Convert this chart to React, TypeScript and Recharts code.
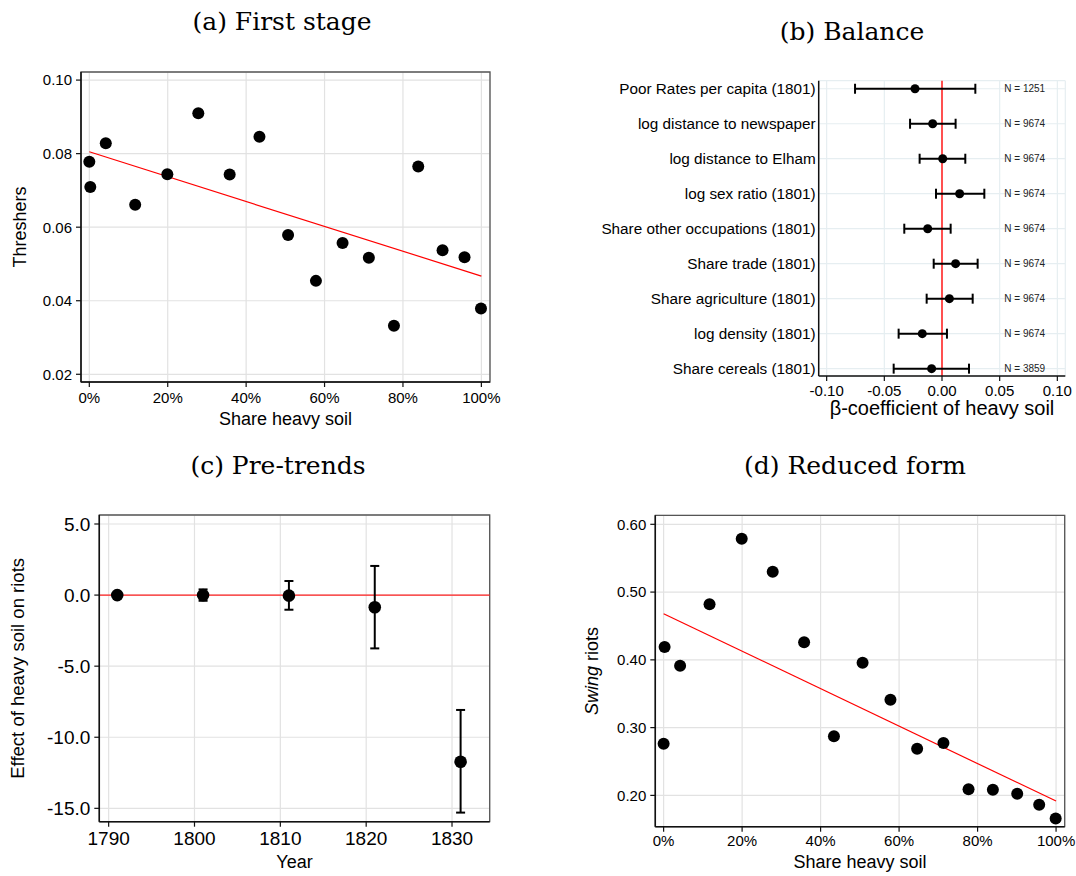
import React from "react"
import { ScatterChart, Scatter, XAxis, YAxis, CartesianGrid, ReferenceLine, ReferenceArea, ErrorBar, Label } from "recharts"

const SANS = "'Liberation Sans', Arial, sans-serif"
const SERIF = "'DejaVu Serif', serif"

// binned share of heavy soil (same bins in panels a and d)
const heavySoil = [0, 0.0025, 0.042, 0.117, 0.199, 0.278, 0.358, 0.434, 0.507, 0.578, 0.646, 0.713, 0.777, 0.839, 0.901, 0.957, 0.999]
const threshers = [0.0778, 0.0709, 0.0828, 0.0661, 0.0744, 0.091, 0.0743, 0.0846, 0.0579, 0.0454, 0.0557, 0.0517, 0.0332, 0.0765, 0.0537, 0.0518, 0.0379]
const thresherFit = [0.0805, 0.0467] // fitted line at 0% and 100%
const swingRiots = [0.2763, 0.4189, 0.3914, 0.4819, 0.5788, 0.5301, 0.4258, 0.2871, 0.3958, 0.3412, 0.2689, 0.2772, 0.2089, 0.2084, 0.2025, 0.1862, 0.166]
const riotFit = [0.4681, 0.1916]
const shareTicks = [0, 0.2, 0.4, 0.6, 0.8, 1]
const thresherTicks = [0.02, 0.04, 0.06, 0.08, 0.1]
const riotTicks = [0.2, 0.3, 0.4, 0.5, 0.6]

// (b) balance
const covariates = [
  "Poor Rates per capita (1801)",
  "log distance to newspaper",
  "log distance to Elham",
  "log sex ratio (1801)",
  "Share other occupations (1801)",
  "Share trade (1801)",
  "Share agriculture (1801)",
  "log density (1801)",
  "Share cereals (1801)",
]
const balanceCoef = [-0.0234, -0.0081, 0.0006, 0.0153, -0.0124, 0.0118, 0.0064, -0.0171, -0.009]
const balanceLo = [-0.0754, -0.0277, -0.0194, -0.0052, -0.0327, -0.0072, -0.0133, -0.0376, -0.0419]
const balanceHi = [0.0289, 0.0118, 0.0202, 0.0367, 0.0075, 0.0309, 0.0266, 0.0043, 0.0234]
const balanceN = [1251, 9674, 9674, 9674, 9674, 9674, 9674, 9674, 3859]
const coefTicks = [-0.1, -0.05, 0, 0.05, 0.1]
const rowTicks = [1, 2, 3, 4, 5, 6, 7, 8, 9]
const nLabelX = 0.054

// (c) pre-trends
const years = [1791, 1801, 1811, 1821, 1831]
const yearEffect = [0, 0, -0.04, -0.86, -11.72]
const yearLo = [0, -0.4, -1.03, -3.75, -15.3]
const yearHi = [0, 0.4, 0.99, 2.05, -8.08]
const yearTicks = [1790, 1800, 1810, 1820, 1830]
const effectTicks = [-15, -10, -5, 0, 5]

const pct = (v: number) => `${Math.round(v * 100)}%`
const dot = (r: number) => (p: any) => <circle cx={p.cx} cy={p.cy} r={r} fill="#000" />

const axisLine = { stroke: "#111", strokeWidth: 1.5 }
const tickLine = { stroke: "#111", strokeWidth: 1.2 }
const tickStyle = (size: number) => ({ fill: "#000", fontSize: size, fontFamily: SANS })

const xTitle = (text: string, dy: number, size = 18) => (p: any) => {
  const vb = p.viewBox
  return (
    <text x={vb.x + vb.width / 2} y={vb.y + dy} textAnchor="middle" fontSize={size} fontFamily={SANS} fill="#000">
      {text}
    </text>
  )
}

const yTitle = (content: React.ReactNode, dx: number, size = 18) => (p: any) => {
  const vb = p.viewBox
  const x = vb.x + dx
  const y = vb.y + vb.height / 2
  return (
    <text x={x} y={y} transform={`rotate(-90, ${x}, ${y})`} textAnchor="middle" fontSize={size} fontFamily={SANS} fill="#000">
      {content}
    </text>
  )
}

function FirstStage() {
  const data = heavySoil.map((x, i) => ({ x, y: threshers[i] }))
  const xd = [-0.0212, 1.022]
  const yd = [0.0179, 0.1022]
  return (
    <ScatterChart width={520} height={440} margin={{ top: 72, right: 30, bottom: 8, left: 21 }}>
      <CartesianGrid stroke="#e2e2e2" strokeWidth={1.2} />
      <ReferenceArea x1={xd[0]} x2={xd[1]} y1={yd[0]} y2={yd[1]} fill="none" stroke="#555" strokeWidth={1.3} ifOverflow="visible" />
      <XAxis type="number" dataKey="x" domain={xd} ticks={shareTicks} tickFormatter={pct} height={50}
        tick={tickStyle(15)} tickSize={5} tickMargin={5} axisLine={axisLine} tickLine={tickLine}>
        <Label content={xTitle("Share heavy soil", 43)} />
      </XAxis>
      <YAxis type="number" dataKey="y" domain={yd} ticks={thresherTicks} tickFormatter={(v: number) => v.toFixed(2)} width={60}
        tick={tickStyle(15)} tickSize={5} tickMargin={4} axisLine={axisLine} tickLine={tickLine}>
        <Label content={yTitle("Threshers", 5)} />
      </YAxis>
      <ReferenceLine segment={[{ x: 0, y: thresherFit[0] }, { x: 1, y: thresherFit[1] }]} stroke="#ff0000" strokeWidth={1.2} ifOverflow="visible" />
      <Scatter data={data} shape={dot(6)} isAnimationActive={false} />
    </ScatterChart>
  )
}

function Balance() {
  const data = covariates.map((c, i) => ({
    x: balanceCoef[i],
    y: 9 - i,
    err: [balanceCoef[i] - balanceLo[i], balanceHi[i] - balanceCoef[i]],
  }))
  const nData = balanceN.map((n, i) => ({ x: nLabelX, y: 9 - i, n }))
  return (
    <ScatterChart width={516} height={440} margin={{ top: 80.7, right: 10.7, bottom: 0, left: 8 }}>
      <CartesianGrid stroke="#e6eef1" strokeWidth={1.2} />
      <XAxis type="number" dataKey="x" domain={[-0.1069, 0.1069]} ticks={coefTicks} tickFormatter={(v: number) => v.toFixed(2)} height={64}
        tick={tickStyle(15)} tickSize={5} tickMargin={4} axisLine={axisLine} tickLine={tickLine}>
        <Label content={xTitle("\u03b2-coefficient of heavy soil", 39, 20)} />
      </XAxis>
      <YAxis type="number" dataKey="y" domain={[0.79, 9.23]} ticks={rowTicks} tickFormatter={(v: number) => covariates[9 - v]} width={250.7}
        tick={tickStyle(15.3)} tickSize={0} tickMargin={3} axisLine={axisLine} tickLine={false} />
      <ReferenceLine x={0} stroke="#ff5050" strokeWidth={2} />
      <Scatter data={data} shape={dot(4.5)} isAnimationActive={false}>
        <ErrorBar dataKey="err" direction="x" width={5} stroke="#000" strokeWidth={2} />
      </Scatter>
      <Scatter data={nData} isAnimationActive={false}
        shape={(p: any) => (
          <text x={p.cx} y={p.cy} dy="0.35em" fontSize={10} fontFamily={SANS} fill="#222">{`N = ${p.payload.n}`}</text>
        )} />
    </ScatterChart>
  )
}

function PreTrends() {
  const data = years.map((x, i) => ({ x, y: yearEffect[i], err: [yearEffect[i] - yearLo[i], yearHi[i] - yearEffect[i]] }))
  const xd = [1788.91, 1834.39]
  const yd = [-15.94, 5.633]
  return (
    <ScatterChart width={520} height={436} margin={{ top: 75, right: 30.3, bottom: 0, left: 10 }}>
      <CartesianGrid stroke="#e2e2e2" strokeWidth={1.2} />
      <ReferenceArea x1={xd[0]} x2={xd[1]} y1={yd[0]} y2={yd[1]} fill="none" stroke="#555" strokeWidth={1.3} ifOverflow="visible" />
      <XAxis type="number" dataKey="x" domain={xd} ticks={yearTicks} height={54.3}
        tick={tickStyle(19)} tickSize={5} tickMargin={5} axisLine={axisLine} tickLine={tickLine}>
        <Label content={xTitle("Year", 46.3)} />
      </XAxis>
      <YAxis type="number" dataKey="y" domain={yd} ticks={effectTicks} tickFormatter={(v: number) => v.toFixed(1)} width={89.3}
        tick={tickStyle(19)} tickSize={5} tickMargin={4} axisLine={axisLine} tickLine={tickLine}>
        <Label content={yTitle("Effect of heavy soil on riots", 14, 18.5)} />
      </YAxis>
      <ReferenceLine y={0} stroke="#ff2020" strokeWidth={1.2} />
      <Scatter data={data} shape={dot(6.3)} isAnimationActive={false}>
        <ErrorBar dataKey="err" direction="y" width={4.5} stroke="#000" strokeWidth={2} />
      </Scatter>
    </ScatterChart>
  )
}

function ReducedForm() {
  const data = heavySoil.map((x, i) => ({ x, y: swingRiots[i] }))
  const xd = [-0.0212, 1.022]
  const yd = [0.1538, 0.6133]
  return (
    <ScatterChart width={516} height={436} margin={{ top: 75.3, right: 11.3, bottom: 0, left: 10 }}>
      <CartesianGrid stroke="#e2e2e2" strokeWidth={1.2} />
      <ReferenceArea x1={xd[0]} x2={xd[1]} y1={yd[0]} y2={yd[1]} fill="none" stroke="#555" strokeWidth={1.3} ifOverflow="visible" />
      <XAxis type="number" dataKey="x" domain={xd} ticks={shareTicks} tickFormatter={pct} height={49.3}
        tick={tickStyle(15)} tickSize={5} tickMargin={4} axisLine={axisLine} tickLine={tickLine}>
        <Label content={xTitle("Share heavy soil", 41.6)} />
      </XAxis>
      <YAxis type="number" dataKey="y" domain={yd} ticks={riotTicks} tickFormatter={(v: number) => v.toFixed(2)} width={85.3}
        tick={tickStyle(15)} tickSize={5} tickMargin={4} axisLine={axisLine} tickLine={tickLine}>
        <Label content={yTitle(<><tspan fontStyle="italic">Swing</tspan> riots</>, 28)} />
      </YAxis>
      <ReferenceLine segment={[{ x: 0, y: riotFit[0] }, { x: 1, y: riotFit[1] }]} stroke="#ff0000" strokeWidth={1.2} ifOverflow="visible" />
      <Scatter data={data} shape={dot(6)} isAnimationActive={false} />
    </ScatterChart>
  )
}

const titles = [
  { text: "(a) First stage", x: 282, y: 30 },
  { text: "(b) Balance", x: 852, y: 40 },
  { text: "(c) Pre-trends", x: 278, y: 474 },
  { text: "(d) Reduced form", x: 855, y: 474 },
]

export default function App() {
  return (
    <div style={{ position: "absolute", left: 0, top: 0, width: 1076, height: 876, background: "#fff" }}>
      <div style={{ position: "absolute", left: 0, top: 0 }}><FirstStage /></div>
      <div style={{ position: "absolute", left: 560, top: 0 }}><Balance /></div>
      <div style={{ position: "absolute", left: 0, top: 440 }}><PreTrends /></div>
      <div style={{ position: "absolute", left: 560, top: 440 }}><ReducedForm /></div>
      <svg width={1076} height={876} style={{ position: "absolute", left: 0, top: 0, pointerEvents: "none" }}>
        {titles.map((t) => (
          <text key={t.text} x={t.x} y={t.y} textAnchor="middle" fontSize={25} fontFamily={SERIF} fill="#000">{t.text}</text>
        ))}
      </svg>
    </div>
  )
}
